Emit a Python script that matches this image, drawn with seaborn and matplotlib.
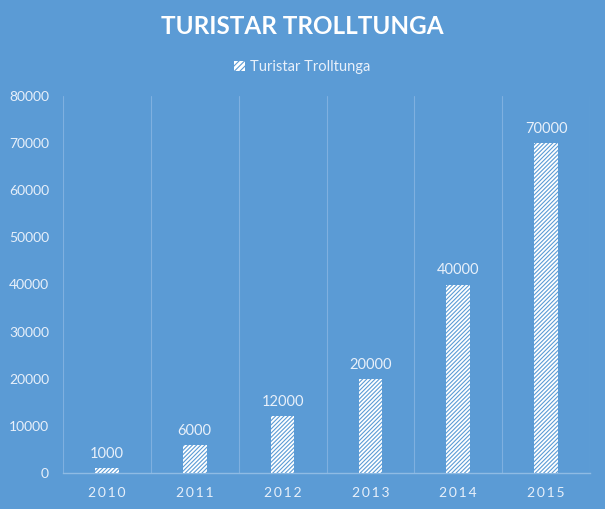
import matplotlib
matplotlib.use("Agg")
import matplotlib.pyplot as plt
import seaborn as sns
import pandas as pd
from matplotlib.patches import Patch

years = ["2010", "2011", "2012", "2013", "2014", "2015"]
visitors = [1000, 6000, 12000, 20000, 40000, 70000]
series_name = "Turistar Trolltunga"
title = "TURISTAR TROLLTUNGA"
yticks = [0, 10000, 20000, 30000, 40000, 50000, 60000, 70000, 80000]

bg = "#5B9BD5"
txt = "#E8F0FA"
sns.set_theme(style="white")
plt.rcParams['font.family'] = ['Lato', 'DejaVu Sans']
plt.rcParams['hatch.color'] = bg
plt.rcParams['hatch.linewidth'] = 0.8

df = pd.DataFrame({"year": years, "value": visitors})
fig = plt.figure(figsize=(6.05, 5.09), dpi=100, facecolor=bg)
ax = fig.add_axes([63/605, 1 - 473/509, (590-63)/605, (473-96)/509])
ax.set_facecolor(bg)
sns.barplot(data=df, x="year", y="value", color="white", width=0.27, ax=ax,
            edgecolor=bg, linewidth=0, hatch="////////", zorder=3)
for p in ax.patches:
    p.set_hatch("////////")
ax.set_ylim(0, 80000)
ax.set_xlim(-0.5, len(years) - 0.5)
ax.set_yticks(yticks)
ax.set_yticklabels([str(v) for v in yticks], color=txt, fontsize=10)
ax.set_xticks(range(len(years)))
ax.set_xticklabels(["\u2009".join(list(y)) for y in years], color=txt, fontsize=10,
                   fontfamily=['DejaVu Sans'] if False else None)
ax.tick_params(axis='both', length=0, pad=10)
ax.set_xlabel("")
ax.set_ylabel("")
for s in ["top", "right", "left"]:
    ax.spines[s].set_visible(False)
ax.spines["bottom"].set_color("#8FBBE4")
ax.spines["bottom"].set_linewidth(1)
for b in [i + 0.5 for i in range(-1, len(years))]:
    ax.axvline(b, color="#7FB0E0", lw=0.8, zorder=1)
for i, v in enumerate(visitors):
    ax.text(i, v + 1500, str(v), ha="center", va="bottom", color=txt, fontsize=10.5)

fig.text(0.5, 1 - 27/509, title, ha="center", va="center", color="white",
         fontsize=17.5, fontweight="bold")
handle = Patch(facecolor="white", edgecolor=bg, hatch="//////", linewidth=0)
leg = fig.legend(handles=[handle], labels=[series_name], loc="center",
                 bbox_to_anchor=(0.5, 1 - 67/509), frameon=False, fontsize=10.5,
                 handlelength=0.7, handleheight=0.7, handletextpad=0.4)
for t in leg.get_texts():
    t.set_color(txt)

fig.savefig("out.png", dpi=100, facecolor=bg)
